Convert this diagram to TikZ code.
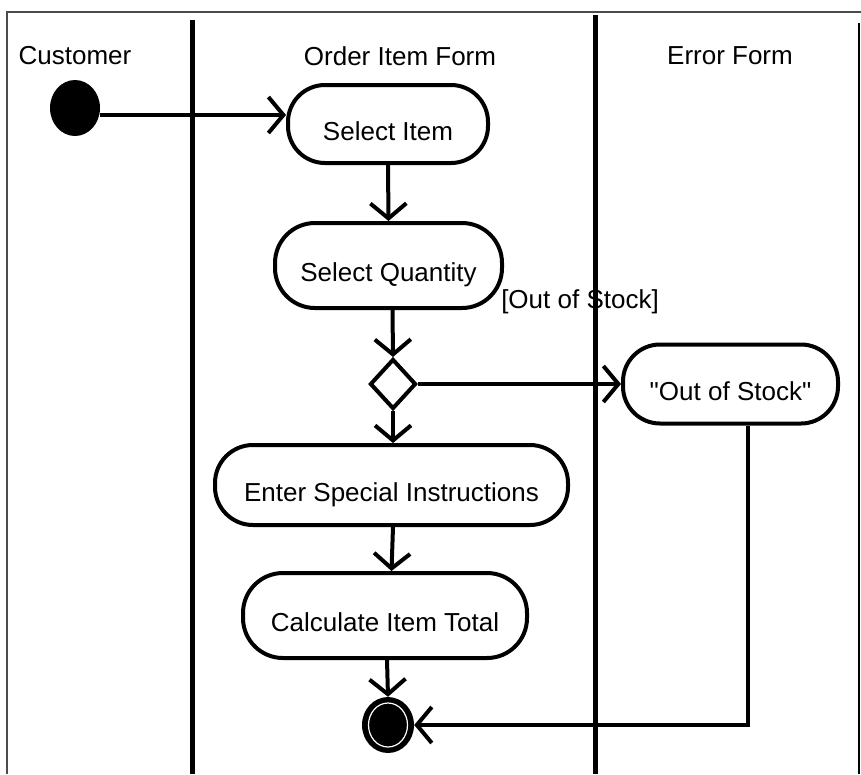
\documentclass[tikz,border=0pt]{standalone}
\usepackage{fontspec}
\setmainfont{Liberation Sans}[Ligatures=TeXOff]
\usetikzlibrary{arrows.meta,shapes.geometric}
\tikzset{
  lane/.style={line width=5pt, black},
  act/.style={draw, line width=4pt, inner sep=0pt, text height=32pt, text depth=0pt, font=\fontsize{26}{30}\selectfont},
  lbl/.style={inner sep=0pt, font=\fontsize{26}{30}\selectfont},
  arr/.style={line width=4pt, -{Straight Barb[length=15pt,width=36pt,line width=4pt]}},
  plain/.style={line width=4pt}
}
\begin{document}
\begin{tikzpicture}[x=1pt,y=-1pt]
\useasboundingbox (0,0) rectangle (861,774);
% frame
\draw[gray!60!black, line width=2pt] (7,774) -- (7,12) -- (861,12);
\draw[black, line width=2pt] (859,23) -- (859,774);
% swimlanes
\coordinate (l1t) at (192,20); \coordinate (l1b) at (192,774);
\coordinate (l2t) at (595,15); \coordinate (l2b) at (595,774);
\draw[lane] (l1t) -- (l1b);
\draw[lane] (l2t) -- (l2b);
% headers
\node[lbl] (hc) at (75,56) {Customer};
\node[lbl] (ho) at (400,56) {Order Item Form};
\node[lbl] (he) at (730,56) {Error Form};
% nodes
\node[ellipse, fill=black, minimum width=50pt, minimum height=56pt, inner sep=0pt] (init) at (75,108) {};
\node[act, rounded corners=37pt, minimum width=200pt, minimum height=78pt] (selitem) at (388,124) {Select Item};
\node[act, rounded corners=40pt, minimum width=227pt, minimum height=85pt] (selqty) at (388.5,265.5) {Select Quantity};
\node[diamond, draw, line width=4pt, minimum width=46pt, minimum height=50pt, inner sep=0pt] (dec) at (393,384) {};
\node[act, rounded corners=37pt, minimum width=215pt, minimum height=79pt] (oos) at (730.5,384) {"Out of Stock"};
\node[act, rounded corners=38pt, minimum width=353pt, minimum height=80pt] (enter) at (391.5,485) {Enter Special Instructions};
\node[act, rounded corners=40pt, minimum width=284pt, minimum height=85pt] (calc) at (385,615.5) {Calculate Item Total};
\node[ellipse, fill=black, minimum width=52pt, minimum height=56pt, inner sep=0pt] (final) at (388,725) {};
\draw[white, line width=1.2pt] (final.center) ellipse [x radius=19.5, y radius=22];
\node[lbl] (guard) at (580,302) {[Out of Stock]};
% connectors
\draw[arr] ([yshift=-7pt]init.east) -- ([yshift=-7pt]init.east -| selitem.west);
\draw[arr] (selitem.south) -- (selqty.north);
\draw[arr] ([xshift=4pt]selqty.south) -- (dec.north);
\draw[arr] (dec.east) -- (oos.west);
\draw[arr] (dec.south) -- ([xshift=1.5pt]enter.north);
\draw[arr] ([xshift=1.5pt]enter.south) -- ([xshift=6.5pt]calc.north);
\draw[arr] ([xshift=2pt]calc.south) -- ([xshift=0pt]final.north);
\draw[arr] ([xshift=17.5pt]oos.south) |- (final.east);
\end{tikzpicture}
\end{document}
